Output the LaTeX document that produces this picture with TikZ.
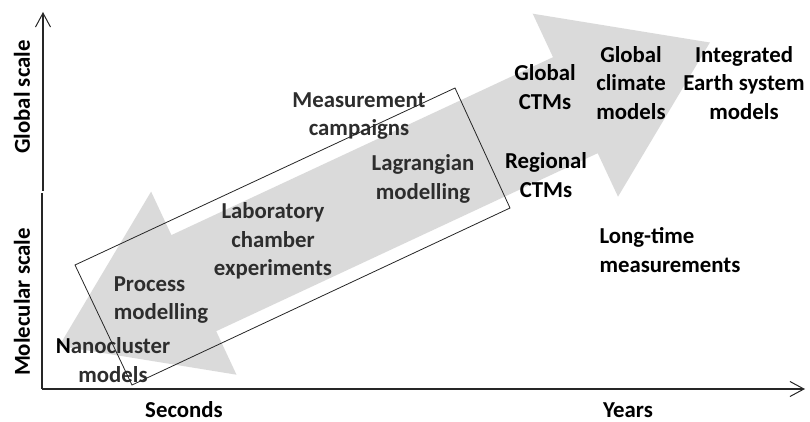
\documentclass[tikz,border=0pt]{standalone}
\usepackage{fontspec}
\setmainfont{Carlito}
\usetikzlibrary{arrows.meta}
\definecolor{arrowgray}{RGB}{218,218,218}
\definecolor{txtgray}{RGB}{45,45,45}
\begin{document}
\begin{tikzpicture}[x=1pt,y=-1pt,
  lbl/.style={font=\fontsize{22.8}{28.5}\selectfont\bfseries, align=center, inner sep=0pt, text=black},
  inlbl/.style={lbl, text=txtgray},
  axisline/.style={line width=1.1pt, draw=black!85},
  axtip/.style={-{Straight Barb[length=14pt,width=15pt,line width=1pt]}}
]
\useasboundingbox (0,0) rectangle (810,422);
% big double arrow
\fill[arrowgray] (59.2,345.9) -- (151.1,191.6) -- (171.4,235.1) -- (553.0,57.2)
  -- (532.7,13.7) -- (709.9,42.5) -- (618.0,196.7) -- (597.7,153.2)
  -- (216.2,331.2) -- (236.5,374.7) -- cycle;
% axes
\coordinate (O) at (42,389);
\coordinate (brkA) at (42,193);
\coordinate (brkB) at (43,191);
\coordinate (ytop) at (43,12);
\coordinate (xend) at (805,389);
\draw[axisline] (O) -- (brkA);
\draw[axisline,axtip] (brkB) -- (ytop);
\draw[axisline,axtip] (O) -- (xend);
% labels
\node[lbl,rotate=90] (glob) at (22,97) {Global scale};
\node[lbl,rotate=90] (mol) at (22,302) {Molecular scale};
\node[lbl] (sec) at (184,410) {Seconds};
\node[lbl] (yrs) at (628,410) {Years};
\node[inlbl] (meas) at (359,116) {Measurement\\campaigns};
\node[inlbl] (lag) at (423,179) {Lagrangian\\modelling};
\node[inlbl] (lab) at (273,241) {Laboratory\\chamber\\experiments};
\node[inlbl,align=left] (proc) at (161,300) {Process\\modelling};
\node[inlbl] (nano) at (113,360) {{\color{black}N}anocluster\\models};
\node[lbl] (gctm) at (545,87) {Global\\CTMs};
\node[lbl] (gcm) at (631,83) {Global\\climate\\models};
\node[lbl] (iesm) at (744,83) {Integrated\\Earth system\\models};
\node[lbl] (rctm) at (546,175) {Regional\\CTMs};
\node[lbl,align=left] (ltm) at (670,250) {Long-time\\measurements};
% rotated box
\coordinate (r1) at (75,265);
\coordinate (r2) at (455,88);
\coordinate (r3) at (510,208);
\coordinate (r4) at (132,385);
\draw[line width=0.8pt, black!85] (r1) -- (r2) -- (r3) -- (r4) -- cycle;
\end{tikzpicture}
\end{document}
